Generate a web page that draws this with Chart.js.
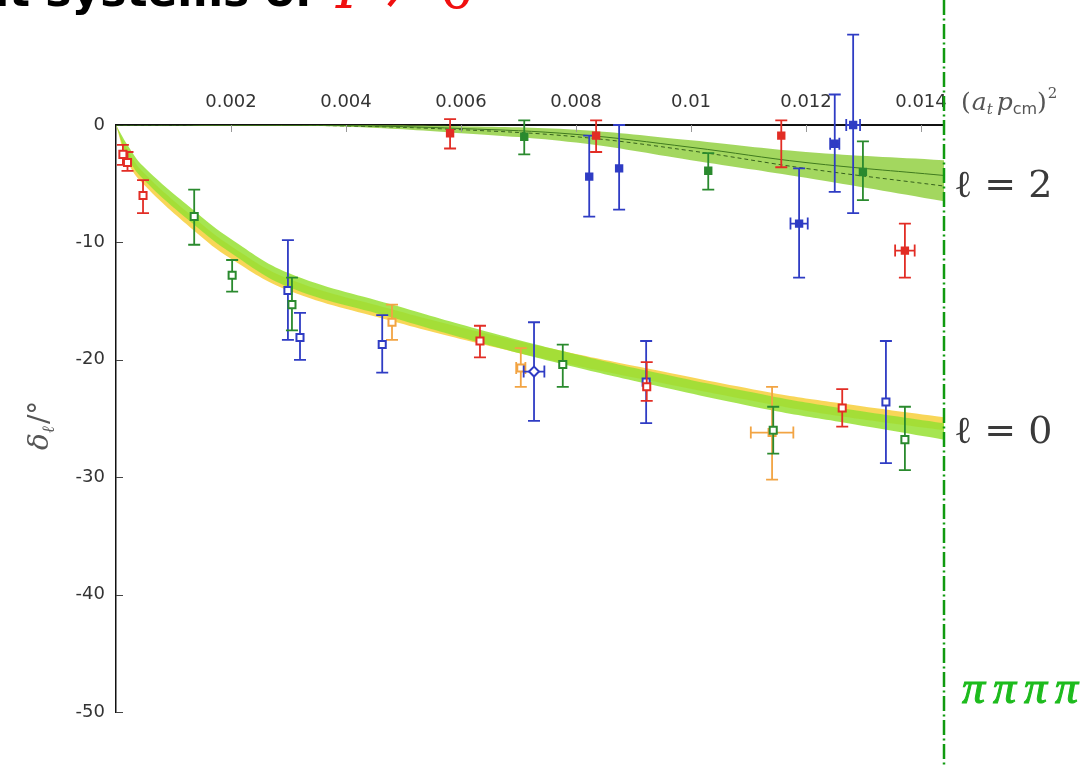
<!DOCTYPE html>
<html>
<head>
<meta charset="utf-8">
<script src="https://cdn.jsdelivr.net/npm/chart.js@4.4.1/dist/chart.umd.min.js"></script>
<style>
  html, body { margin: 0; padding: 0; background: #fff; }
  canvas { display: block; }
</style>
</head>
<body>
<canvas id="phase-chart" width="1090" height="767"></canvas>
<script>
// axis ranges / ticks
const xMax = 0.0144;
const xStep = 0.002;
const yMin = -50;
const yStep = 10;

// points: [x, delta, errTop, errBottom, xErr]
const l0Red = [
    [0.00012, -2.5, -1.7, -3.4],
    [0.00020, -3.2, -2.3, -3.9],
    [0.00047, -6.0, -4.7, -7.5],
    [0.00633, -18.4, -17.1, -19.8],
    [0.00923, -22.3, -20.2, -23.5],
    [0.01263, -24.1, -22.5, -25.7]
];
const l0Green = [
    [0.00136, -7.8, -5.5, -10.2],
    [0.00202, -12.8, -11.5, -14.2],
    [0.00306, -15.3, -13.0, -17.5],
    [0.00777, -20.4, -18.7, -22.3],
    [0.01143, -26.0, -24.0, -28.0],
    [0.01372, -26.8, -24.0, -29.4]
];
const l0Blue = [
    [0.00299, -14.1, -9.8, -18.3],
    [0.00320, -18.1, -16.0, -20.0],
    [0.00463, -18.7, -16.2, -21.1],
    [0.00922, -21.9, -18.4, -25.4],
    [0.01339, -23.6, -18.4, -28.8]
];
const l0BlueDiamond = [
    [0.00727, -21.0, -16.8, -25.2, 0.00018]
];
const l0Orange = [
    [0.00480, -16.8, -15.3, -18.3],
    [0.00704, -20.7, -19.0, -22.3, 0.00008],
    [0.01141, -26.2, -22.3, -30.2, 0.00037]
];
const l2Red = [
    [0.00581, -0.7, 0.5, -2.0],
    [0.00835, -0.9, 0.4, -2.3],
    [0.01157, -0.9, 0.4, -3.6],
    [0.01372, -10.7, -8.4, -13.0, 0.00017]
];
const l2Green = [
    [0.00710, -1.0, 0.4, -2.5],
    [0.01030, -3.9, -2.4, -5.5],
    [0.01299, -4.0, -1.4, -6.4]
];
const l2Blue = [
    [0.00823, -4.4, -0.9, -7.8],
    [0.00875, -3.7, 0.0, -7.2],
    [0.01188, -8.4, -3.7, -13.0, 0.00015],
    [0.01250, -1.6, 2.6, -5.7, 0.00008],
    [0.01282, 0.0, 7.7, -7.5, 0.00012]
];

// fit bands, l = 0
const bandX0 = [0, 0.0002, 0.00047, 0.00136, 0.002, 0.003, 0.0048, 0.0063, 0.0078, 0.0092, 0.0114, 0.0126, 0.0144];
const greenHi0 = [0, -1.7, -3.5, -7.3, -9.7, -12.6, -15.3, -17.4, -19.3, -20.9, -23.1, -24.1, -25.4];
const greenLo0 = [0, -2.7, -4.6, -8.5, -10.9, -13.8, -16.4, -18.5, -20.4, -22.0, -24.3, -25.3, -26.8];
const yellowHi0 = [0, -2.1, -4.0, -7.9, -10.3, -13.1, -15.7, -17.6, -19.3, -20.7, -22.8, -23.7, -24.9];
const yellowLo0 = [0, -3.1, -5.0, -9.0, -11.4, -14.1, -16.7, -18.6, -20.3, -21.7, -23.8, -24.8, -26.0];

// fit band, l = 2
const bandX2 = [0, 0.002, 0.004, 0.006, 0.008, 0.010, 0.012, 0.0144];
const bandHi2 = [0, 0, 0, -0.1, -0.4, -1.3, -2.3, -3.0];
const bandLo2 = [0, -0.05, -0.15, -0.7, -1.5, -3.0, -4.5, -6.5];
const fitLine2 = [0, 0, -0.05, -0.3, -0.8, -1.9, -3.2, -4.3];
const fitDash2 = [0, 0, -0.08, -0.4, -1.0, -2.2, -3.7, -5.2];

const RED = '#e22d25';
const GREEN = '#2a8a2e';
const BLUE = '#2f3cc4';
const ORANGE = '#f2a443';

function pointSet(rows, color, filled, style) {
    return {
        type: 'scatter',
        data: rows.map(r => ({ x: r[0], y: r[1], top: r[2], bot: r[3], xe: r[4] || 0 })),
        errColor: color,
        pointStyle: style || 'rect',
        pointRadius: filled ? 4.5 : 5,
        pointHoverRadius: 5,
        borderColor: color,
        backgroundColor: filled ? color : '#ffffff',
        borderWidth: 2,
        clip: false,
        order: 1
    };
}

function bandLine(xs, ys, color, fill, order) {
    return {
        type: 'line',
        data: xs.map((x, i) => ({ x: x, y: ys[i] })),
        borderColor: 'rgba(0,0,0,0)',
        borderWidth: 0,
        backgroundColor: color,
        fill: fill,
        pointRadius: 0,
        tension: 0.4,
        order: order
    };
}

const datasets = [
    bandLine(bandX0, yellowHi0, 'rgba(247,210,70,0.9)', '+1', 20),
    bandLine(bandX0, yellowLo0, 'rgba(0,0,0,0)', false, 20),
    bandLine(bandX0, greenHi0, 'rgba(150,225,50,0.85)', '+1', 19),
    bandLine(bandX0, greenLo0, 'rgba(0,0,0,0)', false, 19),
    bandLine(bandX2, bandHi2, 'rgba(140,205,55,0.8)', '+1', 18),
    bandLine(bandX2, bandLo2, 'rgba(0,0,0,0)', false, 18),
    {
        type: 'line',
        data: bandX2.map((x, i) => ({ x: x, y: fitLine2[i] })),
        borderColor: '#3f7a1e', borderWidth: 1, pointRadius: 0, tension: 0.4, fill: false, order: 17
    },
    {
        type: 'line',
        data: bandX2.map((x, i) => ({ x: x, y: fitDash2[i] })),
        borderColor: '#35601c', borderWidth: 1, borderDash: [4, 3], pointRadius: 0, tension: 0.4, fill: false, order: 17
    },
    pointSet(l0Red, RED, false),
    pointSet(l0Green, GREEN, false),
    pointSet(l0Blue, BLUE, false),
    pointSet(l0BlueDiamond, BLUE, false, 'rectRot'),
    pointSet(l0Orange, ORANGE, false),
    pointSet(l2Red, RED, true),
    pointSet(l2Green, GREEN, true),
    pointSet(l2Blue, BLUE, true)
];

// error bars, drawn just before each point set
const errorBars = {
    id: 'errorBars',
    beforeDatasetDraw(chart, args) {
        const ds = chart.data.datasets[args.index];
        if (!ds.errColor) return;
        const ctx = chart.ctx;
        const xs = chart.scales.x, ys = chart.scales.y;
        const cap = 6;
        ctx.save();
        ctx.strokeStyle = ds.errColor;
        ctx.lineWidth = 1.8;
        ds.data.forEach(p => {
            const px = xs.getPixelForValue(p.x);
            const py = ys.getPixelForValue(p.y);
            const t = ys.getPixelForValue(p.top);
            const b = ys.getPixelForValue(p.bot);
            ctx.beginPath();
            ctx.moveTo(px, t); ctx.lineTo(px, b);
            ctx.moveTo(px - cap, t); ctx.lineTo(px + cap, t);
            ctx.moveTo(px - cap, b); ctx.lineTo(px + cap, b);
            if (p.xe) {
                const l = xs.getPixelForValue(p.x - p.xe);
                const r = xs.getPixelForValue(p.x + p.xe);
                ctx.moveTo(l, py); ctx.lineTo(r, py);
                ctx.moveTo(l, py - cap); ctx.lineTo(l, py + cap);
                ctx.moveTo(r, py - cap); ctx.lineTo(r, py + cap);
            }
            ctx.stroke();
        });
        ctx.restore();
    }
};

function drawRuns(ctx, x, y, runs) {
    runs.forEach(r => {
        ctx.font = r.font;
        ctx.fillText(r.text, x, y + (r.dy || 0));
        x += ctx.measureText(r.text).width + (r.gap || 0);
    });
}

const decorations = {
    id: 'decorations',
    afterDatasetsDraw(chart) {
        const ctx = chart.ctx;
        const xs = chart.scales.x, ys = chart.scales.y;
        const area = chart.chartArea;
        ctx.save();
        // inward tick marks
        ctx.strokeStyle = '#444';
        ctx.lineWidth = 1;
        ctx.beginPath();
        for (let v = yMin; v < 0; v += yStep) {
            const py = Math.round(ys.getPixelForValue(v)) + 0.5;
            ctx.moveTo(area.left, py); ctx.lineTo(area.left + 7, py);
        }
        ctx.stroke();
        ctx.strokeStyle = '#999';
        ctx.beginPath();
        for (let v = xStep; v < xMax; v += xStep) {
            const px = Math.round(xs.getPixelForValue(v)) + 0.5;
            ctx.moveTo(px, area.top); ctx.lineTo(px, area.top + 7);
        }
        ctx.stroke();
        ctx.restore();
    },
    afterDraw(chart) {
        const ctx = chart.ctx;
        const xs = chart.scales.x;
        ctx.save();

        // dash-dot divider
        const lx = xs.getPixelForValue(xMax);
        ctx.strokeStyle = '#109a10';
        ctx.lineWidth = 2.5;
        ctx.setLineDash([15, 3.5, 2, 3.5]);
        ctx.beginPath();
        ctx.moveTo(lx, 0); ctx.lineTo(lx, chart.height);
        ctx.stroke();
        ctx.setLineDash([]);

        // slide heading, cut off at the top
        ctx.textBaseline = 'alphabetic';
        ctx.fillStyle = '#000';
        ctx.textAlign = 'right';
        ctx.font = 'bold 44px "DejaVu Sans"';
        ctx.fillText('ment systems of', 314, 6);
        ctx.textAlign = 'left';
        ctx.fillStyle = '#f01010';
        drawRuns(ctx, 336, 8, [
            { text: 'I', font: 'italic 56px "DejaVu Serif"', gap: 20 },
            { text: '\u2260', font: '56px "DejaVu Serif"', gap: 14 },
            { text: '0', font: '56px "DejaVu Serif"' }
        ]);

        // x axis title
        ctx.fillStyle = '#555';
        drawRuns(ctx, 961, 110, [
            { text: '(', font: '25px "DejaVu Serif"', gap: 1 },
            { text: 'a', font: 'italic 25px "DejaVu Serif"' },
            { text: 't', font: 'italic 15px "DejaVu Serif"', dy: 4, gap: 4 },
            { text: 'p', font: 'italic 25px "DejaVu Serif"' },
            { text: 'cm', font: '16px "DejaVu Sans"', dy: 4 },
            { text: ')', font: '25px "DejaVu Serif"', gap: 1 },
            { text: '2', font: '15px "DejaVu Serif"', dy: -12 }
        ]);

        // partial wave labels
        ctx.fillStyle = '#3a3a3a';
        ctx.font = '38px "DejaVu Serif"';
        ctx.fillText('\u2113 = 2', 954, 197);
        ctx.fillText('\u2113 = 0', 954, 443);

        // channel label
        ctx.fillStyle = '#1dbb1d';
        ctx.strokeStyle = '#1dbb1d';
        ctx.lineWidth = 1;
        ctx.font = 'italic 46px "Liberation Serif"';
        for (let i = 0; i < 4; i++) {
            ctx.fillText('\u03c0', 962 + i * 31, 703);
            ctx.strokeText('\u03c0', 962 + i * 31, 703);
        }

        // y axis title, rotated
        ctx.translate(48, 410);
        ctx.rotate(-Math.PI / 2);
        ctx.fillStyle = '#555';
        drawRuns(ctx, -40, 0, [
            { text: '\u03b4', font: 'italic 28px "DejaVu Serif"' },
            { text: '\u2113', font: 'italic 17px "DejaVu Serif"', dy: 6, gap: 2 },
            { text: '/\u00b0', font: '28px "DejaVu Serif"' }
        ]);
        ctx.restore();
    }
};

const tickFont = { family: '"DejaVu Sans", Arial', size: 18 };

const ctx = document.getElementById('phase-chart').getContext('2d');
const phaseChart = new Chart(ctx, {
    type: 'scatter',
    data: { datasets: datasets },
    options: {
        responsive: false,
        animation: false,
        layout: { padding: { left: 0, top: 0, right: 146, bottom: 55 } },
        plugins: {
            legend: { display: false },
            tooltip: { enabled: false }
        },
        scales: {
            x: {
                type: 'linear',
                position: 'top',
                min: 0,
                max: xMax,
                grid: { display: false },
                border: { display: true, color: '#111', width: 2 },
                ticks: {
                    stepSize: xStep,
                    includeBounds: false,
                    autoSkip: false,
                    maxRotation: 0,
                    padding: 4,
                    color: '#333',
                    font: tickFont,
                    callback: v => (v === 0 ? '' : String(+v.toFixed(3)))
                },
                afterFit: s => { s.height = 125; }
            },
            y: {
                type: 'linear',
                min: yMin,
                max: 0,
                grid: { display: false },
                border: { display: true, color: '#111', width: 1.5 },
                ticks: {
                    stepSize: yStep,
                    includeBounds: false,
                    padding: 3,
                    color: '#333',
                    font: tickFont
                },
                afterFit: s => { s.width = 116; }
            }
        }
    },
    plugins: [errorBars, decorations]
});
</script>
</body>
</html>
